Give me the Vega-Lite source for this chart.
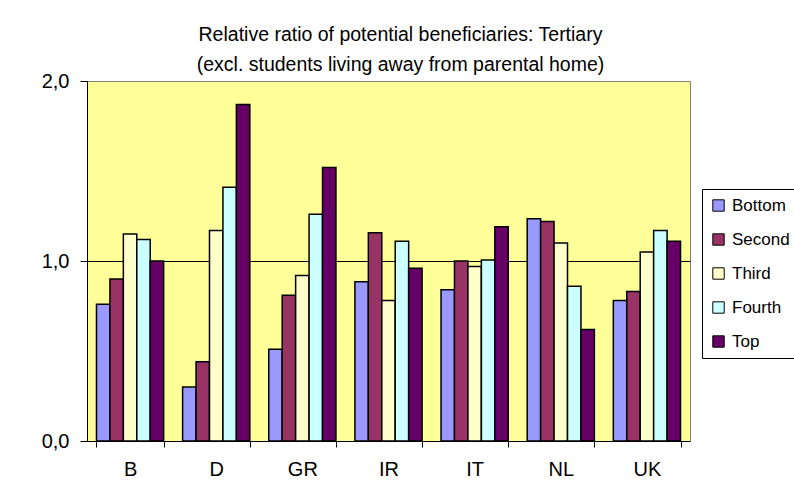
{
  "$schema": "https://vega.github.io/schema/vega-lite/v6.json",
  "autosize": {"type": "none"},
  "padding": {"left": 87, "top": 81, "right": 104, "bottom": 52},
  "width": 603,
  "height": 360,
  "background": "white",
  "title": {
    "text": ["Relative ratio of potential beneficiaries: Tertiary", "(excl. students living away from parental home)"],
    "anchor": "middle",
    "frame": "group",
    "dx": 12,
    "offset": -4,
    "font": "Liberation Sans",
    "fontSize": 19.5,
    "fontWeight": "normal",
    "lineHeight": 30,
    "color": "black"
  },
  "data": {
    "values": [
      {"country": "B", "group": "Bottom", "value": 0.76},
      {"country": "B", "group": "Second", "value": 0.90},
      {"country": "B", "group": "Third", "value": 1.15},
      {"country": "B", "group": "Fourth", "value": 1.12},
      {"country": "B", "group": "Top", "value": 1.00},
      {"country": "D", "group": "Bottom", "value": 0.30},
      {"country": "D", "group": "Second", "value": 0.44},
      {"country": "D", "group": "Third", "value": 1.17},
      {"country": "D", "group": "Fourth", "value": 1.41},
      {"country": "D", "group": "Top", "value": 1.87},
      {"country": "GR", "group": "Bottom", "value": 0.51},
      {"country": "GR", "group": "Second", "value": 0.81},
      {"country": "GR", "group": "Third", "value": 0.92},
      {"country": "GR", "group": "Fourth", "value": 1.26},
      {"country": "GR", "group": "Top", "value": 1.52},
      {"country": "IR", "group": "Bottom", "value": 0.885},
      {"country": "IR", "group": "Second", "value": 1.157},
      {"country": "IR", "group": "Third", "value": 0.78},
      {"country": "IR", "group": "Fourth", "value": 1.11},
      {"country": "IR", "group": "Top", "value": 0.96},
      {"country": "IT", "group": "Bottom", "value": 0.84},
      {"country": "IT", "group": "Second", "value": 1.00},
      {"country": "IT", "group": "Third", "value": 0.97},
      {"country": "IT", "group": "Fourth", "value": 1.005},
      {"country": "IT", "group": "Top", "value": 1.19},
      {"country": "NL", "group": "Bottom", "value": 1.235},
      {"country": "NL", "group": "Second", "value": 1.22},
      {"country": "NL", "group": "Third", "value": 1.10},
      {"country": "NL", "group": "Fourth", "value": 0.86},
      {"country": "NL", "group": "Top", "value": 0.62},
      {"country": "UK", "group": "Bottom", "value": 0.78},
      {"country": "UK", "group": "Second", "value": 0.83},
      {"country": "UK", "group": "Third", "value": 1.05},
      {"country": "UK", "group": "Fourth", "value": 1.17},
      {"country": "UK", "group": "Top", "value": 1.11}
    ]
  },
  "mark": {"type": "bar", "stroke": "black", "strokeWidth": 1.5},
  "encoding": {
    "x": {
      "field": "country",
      "type": "nominal",
      "sort": ["B", "D", "GR", "IR", "IT", "NL", "UK"],
      "scale": {"paddingInner": 0.22, "paddingOuter": 0.11},
      "axis": {
        "title": null,
        "labelAngle": 0,
        "tickBand": "extent",
        "tickSize": 6,
        "tickColor": "black",
        "domainColor": "black",
        "labelFont": "Liberation Sans",
        "labelFontSize": 20,
        "labelColor": "black",
        "labelPadding": 12,
        "grid": false
      }
    },
    "xOffset": {
      "field": "group",
      "type": "nominal",
      "sort": ["Bottom", "Second", "Third", "Fourth", "Top"],
      "scale": {"paddingInner": 0, "paddingOuter": 0}
    },
    "y": {
      "field": "value",
      "type": "quantitative",
      "scale": {"domain": [0, 2], "nice": false},
      "axis": {
        "title": null,
        "values": [0, 1, 2],
        "labelExpr": "replace(format(datum.value, '.1f'), '.', ',')",
        "labelFont": "Liberation Sans",
        "labelFontSize": 20,
        "labelColor": "black",
        "labelPadding": 11,
        "tickSize": 7,
        "tickColor": "black",
        "domainColor": "black",
        "grid": true,
        "gridColor": {"condition": {"test": "datum.value === 1", "value": "black"}, "value": "transparent"},
        "gridOpacity": 1
      }
    },
    "fill": {
      "field": "group",
      "type": "nominal",
      "sort": ["Bottom", "Second", "Third", "Fourth", "Top"],
      "scale": {
        "domain": ["Bottom", "Second", "Third", "Fourth", "Top"],
        "range": ["#9999FF", "#993366", "#FFFFCC", "#CCFFFF", "#660066"]
      },
      "legend": {
        "title": null,
        "orient": "none",
        "legendX": 615,
        "legendY": 108,
        "padding": 8,
        "strokeColor": "black",
        "fillColor": "white",
        "symbolType": "square",
        "symbolSize": 130,
        "symbolStrokeColor": "black",
        "symbolStrokeWidth": 1,
        "symbolOpacity": 1,
        "labelFont": "Liberation Sans",
        "labelFontSize": 17,
        "labelColor": "black",
        "labelOffset": 5,
        "rowPadding": 16
      }
    }
  },
  "config": {
    "view": {"fill": "#FFFF99", "stroke": "#808080", "strokeWidth": 1}
  }
}
